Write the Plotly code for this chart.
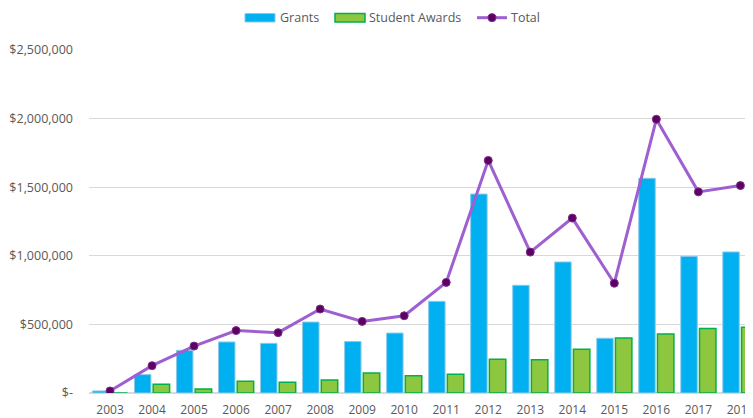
import plotly.graph_objects as go

years = ["2003", "2004", "2005", "2006", "2007", "2008", "2009", "2010",
         "2011", "2012", "2013", "2014", "2015", "2016", "2017", "2018"]
grants = [15000, 134000, 311000, 372000, 362000, 517000, 375000, 437000,
          668000, 1450000, 785000, 955000, 399000, 1565000, 996000, 1028000]
student_awards = [0, 64000, 30000, 85000, 78000, 95000, 146000, 126000,
                  137000, 246000, 242000, 319000, 400000, 430000, 470000, 480000]
total = [15000, 199000, 342000, 455000, 440000, 612000, 522000, 563000,
         806000, 1695000, 1027000, 1275000, 800000, 1995000, 1466000, 1512000]

y_tickvals = [0, 500000, 1000000, 1500000, 2000000, 2500000]
y_ticktext = ["$-", "$500,000", "$1,000,000", "$1,500,000", "$2,000,000", "$2,500,000"]

font_color = "#595959"
grant_color = "#00B0F0"
grant_edge = "#8FC9EA"
student_color = "#8DC63F"
student_edge = "#00B050"
total_color = "#9E5FD0"
total_marker = "#5E0063"

fig = go.Figure()
fig.add_trace(go.Bar(
    x=years, y=grants, name="Grants",
    marker=dict(color=grant_color, line=dict(color=grant_edge, width=1)),
))
fig.add_trace(go.Bar(
    x=years, y=student_awards, name="Student Awards",
    marker=dict(color=student_color, line=dict(color=student_edge, width=1.5)),
))
fig.add_trace(go.Scatter(
    x=years, y=total, name="Total", mode="lines+markers",
    line=dict(color=total_color, width=3),
    marker=dict(color=total_marker, size=8, line=dict(color="#7A2D8A", width=1)),
))

# --- legend drawn in paper coordinates (wide swatches like the original) ---
PLOT_LEFT, PLOT_W, PLOT_BOTTOM, PLOT_H = 89.0, 664.0, 393.0, 343.0


def px(x):
    return (x - PLOT_LEFT) / PLOT_W


def py(y):
    return (PLOT_BOTTOM - y) / PLOT_H


shapes = [
    dict(type="rect", xref="paper", yref="paper", x0=px(245), x1=px(275), y0=py(22), y1=py(13.5),
         fillcolor=grant_color, line=dict(color=grant_edge, width=1)),
    dict(type="rect", xref="paper", yref="paper", x0=px(335), x1=px(365), y0=py(22), y1=py(13.5),
         fillcolor=student_color, line=dict(color=student_edge, width=1.5)),
    dict(type="line", xref="paper", yref="paper", x0=px(477), x1=px(507), y0=py(17.7), y1=py(17.7),
         line=dict(color=total_color, width=3)),
    dict(type="circle", xref="paper", yref="paper", x0=px(488), x1=px(496), y0=py(21.7), y1=py(13.7),
         fillcolor=total_marker, line=dict(color="#7A2D8A", width=1)),
]
legend_labels = [("Grants", 278), ("Student Awards", 367), ("Total", 509)]
annotations = [
    dict(text=t, x=px(xp), y=py(17.7), xref="paper", yref="paper", xanchor="left", yanchor="middle",
         showarrow=False, font=dict(size=12.5, color=font_color))
    for t, xp in legend_labels
]

fig.update_layout(
    width=745, height=410,
    margin=dict(l=81, r=0, t=42, b=25, autoexpand=False),
    paper_bgcolor="white", plot_bgcolor="white",
    font=dict(family="Open Sans, Liberation Sans, sans-serif", size=12, color=font_color),
    barmode="group", bargap=0.11, bargroupgap=0.12,
    showlegend=False,
    shapes=shapes,
    annotations=annotations,
    xaxis=dict(
        type="category", range=[-0.5, 15.3], showgrid=False, automargin=False,
        showline=False, zeroline=False, ticks="", ticklabelstandoff=8,
        tickfont=dict(size=12, color=font_color),
    ),
    yaxis=dict(
        range=[0, 2500000], tickvals=y_tickvals, ticktext=y_ticktext, automargin=False,
        showgrid=True, gridcolor="#D9D9D9", gridwidth=1,
        zeroline=True, zerolinecolor="#D9D9D9", zerolinewidth=2,
        showline=False, ticks="", ticklabelstandoff=15,
        tickfont=dict(size=12.5, color=font_color),
    ),
)

fig.write_html("out.html")
